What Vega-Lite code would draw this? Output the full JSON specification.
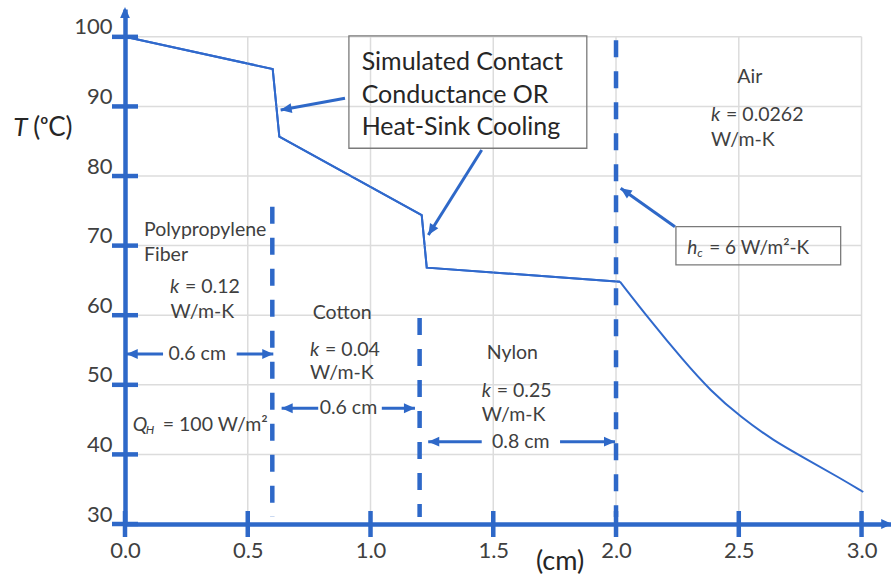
{
  "$schema": "https://vega.github.io/schema/vega-lite/v6.json",
  "width": 766,
  "height": 515,
  "autosize": {"type": "none"},
  "padding": {"left": 125, "top": 9, "right": 0, "bottom": 56},
  "background": "white",
  "config": {"view": {"stroke": null}, "font": "Lato", "text": {"font": "Lato", "color": "#404040"}},
  "datasets": {
    "profile": [
      {"x": 0, "T": 100},
      {"x": 0.6016, "T": 95.38},
      {"x": 0.6286, "T": 85.65},
      {"x": 1.2085, "T": 74.4},
      {"x": 1.229, "T": 66.83},
      {"x": 2.016, "T": 64.82}
    ],
    "decay": [
      {"x": 2.016, "T": 64.82},
      {"x": 2.138, "T": 59.3},
      {"x": 2.274, "T": 53.5},
      {"x": 2.383, "T": 49.2},
      {"x": 2.51, "T": 45.3},
      {"x": 2.641, "T": 42.0},
      {"x": 2.777, "T": 39.3},
      {"x": 2.912, "T": 36.6},
      {"x": 3.007, "T": 34.6}
    ],
    "hgrid": [{"v": 40}, {"v": 50}, {"v": 60}, {"v": 70}, {"v": 80}, {"v": 90}, {"v": 100}],
    "vgrid": [{"v": 0.5}, {"v": 1.0}, {"v": 1.5}, {"v": 2.0}, {"v": 2.5}, {"v": 3.0}],
    "yticks": [{"v": 30}, {"v": 40}, {"v": 50}, {"v": 60}, {"v": 70}, {"v": 80}, {"v": 90}, {"v": 100}],
    "xticks": [{"v": 0}, {"v": 0.5}, {"v": 1.0}, {"v": 1.5}, {"v": 2.0}, {"v": 2.5}, {"v": 3.0}],
    "interfaces": [
      {"x": 0.6, "top": 75.6, "bottom": 31},
      {"x": 1.2, "top": 59.6, "bottom": 31},
      {"x": 2.0, "top": 99.5, "bottom": 31}
    ],
    "labels": [
      {"text": "Polypropylene", "x": 0.0774, "y": 72.25},
      {"text": "Fiber", "x": 0.0774, "y": 68.66},
      {"text": "W/m-K", "x": 0.185, "y": 60.51},
      {"text": "Cotton", "x": 0.7646, "y": 60.36},
      {"text": "W/m-K", "x": 0.7536, "y": 51.66},
      {"text": "Nylon", "x": 1.4733, "y": 54.62},
      {"text": "W/m-K", "x": 1.453, "y": 45.66},
      {"text": "Air", "x": 2.494, "y": 94.28},
      {"text": "W/m-K", "x": 2.387, "y": 85.18}
    ],
    "kvalues": [
      {"val": "= 0.12", "x": 0.1833, "y": 64.01},
      {"val": "= 0.04", "x": 0.7536, "y": 55.0},
      {"val": "= 0.25", "x": 1.453, "y": 49.16},
      {"val": "= 0.0262", "x": 2.387, "y": 88.77}
    ],
    "callout": [
      {"text": "Simulated Contact", "x": 0.964, "y": 96.43},
      {"text": "Conductance OR", "x": 0.964, "y": 91.65},
      {"text": "Heat-Sink Cooling", "x": 0.964, "y": 87.09}
    ],
    "boxes": [
      {"x": 0.912, "x2": 1.881, "y": 100.13, "y2": 83.99},
      {"x": 2.244, "x2": 2.915, "y": 72.72, "y2": 67.22}
    ],
    "dims": [
      {"label": "0.6 cm", "y": 54.43, "xl": 0.007, "xl2": 0.155, "xt": 0.294, "xr": 0.455, "xr2": 0.604},
      {"label": "0.6 cm", "y": 46.63, "xl": 0.638, "xl2": 0.787, "xt": 0.91, "xr": 1.046, "xr2": 1.181},
      {"label": "0.8 cm", "y": 41.83, "xl": 1.235, "xl2": 1.453, "xt": 1.612, "xr": 1.772, "xr2": 1.996}
    ],
    "pointers": [
      {"id": "a1", "x": 0.896, "y": 91.17, "x2": 0.634, "y2": 89.49},
      {"id": "a2", "x": 1.453, "y": 83.74, "x2": 1.2355, "y2": 71.53},
      {"id": "a3", "x": 2.24, "y": 72.72, "x2": 2.019, "y2": 78.24}
    ],
    "qh": [{"x": 0.0314, "y": 44.23}],
    "hc": [{"x": 2.29, "y": 69.62}],
    "ytitle": [{"x": -0.455, "y": 86.83}],
    "xtitle": [{"x": 1.772, "y": 24.54}],
    "yarrow": [{"x": 0, "y": 104.3}],
    "xarrow": [{"x": 3.125, "y": 30}]
  },
  "layer": [
    {
      "data": {"name": "profile"},
      "mark": {"type": "line", "color": "#3069cc", "strokeWidth": 2},
      "encoding": {
        "x": {"field": "x", "type": "quantitative", "title": null,
          "scale": {"domain": [0, 3.12], "nice": false, "zero": false},
          "axis": {"values": [0, 0.5, 1, 1.5, 2, 2.5, 3], "format": ".1f", "title": null, "grid": false, "ticks": false,
            "domain": true, "domainColor": "#2e68c8", "domainWidth": 4.5, "zindex": 1,
            "labelFont": "Lato", "labelFontSize": 22, "labelColor": "#404040", "labelPadding": 16,
            "labelBaseline": "top", "labelFlush": false, "labelOverlap": false}},
        "y": {"field": "T", "type": "quantitative", "title": null,
          "scale": {"domain": [30, 104], "nice": false, "zero": false},
          "axis": {"values": [30, 40, 50, 60, 70, 80, 90, 100], "title": null, "grid": false, "ticks": false,
            "domain": true, "domainColor": "#2e68c8", "domainWidth": 4.5, "zindex": 1,
            "labelFont": "Lato", "labelFontSize": 22, "labelColor": "#404040", "labelPadding": 13,
            "labelBaseline": "alphabetic", "labelOffset": -3, "labelFlush": false, "labelOverlap": false}}
      }
    },
    {
      "data": {"name": "hgrid"},
      "mark": {"type": "rule", "color": "#dcdcdc", "strokeWidth": 1.5},
      "encoding": {
        "y": {"field": "v", "type": "quantitative", "title": null},
        "x": {"datum": 0, "type": "quantitative", "title": null},
        "x2": {"datum": 3}
      }
    },
    {
      "data": {"name": "vgrid"},
      "mark": {"type": "rule", "color": "#dcdcdc", "strokeWidth": 1.5},
      "encoding": {
        "x": {"field": "v", "type": "quantitative", "title": null},
        "y": {"datum": 30, "type": "quantitative", "title": null},
        "y2": {"datum": 100}
      }
    },
    {
      "data": {"name": "interfaces"},
      "mark": {"type": "rule", "color": "#2e68c8", "strokeWidth": 4.5, "strokeDash": [17, 14]},
      "encoding": {
        "x": {"field": "x", "type": "quantitative", "title": null},
        "y": {"field": "top", "type": "quantitative", "title": null},
        "y2": {"field": "bottom"}
      }
    },
    {
      "data": {"name": "profile"},
      "mark": {"type": "line", "color": "#3069cc", "strokeWidth": 2},
      "encoding": {
        "x": {"field": "x", "type": "quantitative", "title": null},
        "y": {"field": "T", "type": "quantitative", "title": null}
      }
    },
    {
      "data": {"name": "decay"},
      "mark": {"type": "line", "color": "#3069cc", "strokeWidth": 2, "interpolate": "basis"},
      "encoding": {
        "x": {"field": "x", "type": "quantitative", "title": null},
        "y": {"field": "T", "type": "quantitative", "title": null}
      }
    },
    {
      "data": {"name": "labels"},
      "mark": {"type": "text", "align": "left", "baseline": "middle", "fontSize": 19.5, "color": "#404040"},
      "encoding": {
        "x": {"field": "x", "type": "quantitative", "title": null},
        "y": {"field": "y", "type": "quantitative", "title": null},
        "text": {"field": "text"}
      }
    },
    {
      "data": {"name": "kvalues"},
      "mark": {"type": "text", "align": "left", "baseline": "middle", "fontSize": 19.5, "fontStyle": "italic", "text": "k", "color": "#404040"},
      "encoding": {
        "x": {"field": "x", "type": "quantitative", "title": null},
        "y": {"field": "y", "type": "quantitative", "title": null}
      }
    },
    {
      "data": {"name": "kvalues"},
      "mark": {"type": "text", "align": "left", "baseline": "middle", "fontSize": 19.5, "dx": 15, "color": "#404040"},
      "encoding": {
        "x": {"field": "x", "type": "quantitative", "title": null},
        "y": {"field": "y", "type": "quantitative", "title": null},
        "text": {"field": "val"}
      }
    },
    {
      "data": {"name": "qh"},
      "mark": {"type": "text", "align": "left", "baseline": "middle", "fontSize": 19.5, "fontStyle": "italic", "text": "Q", "color": "#404040"},
      "encoding": {
        "x": {"field": "x", "type": "quantitative", "title": null},
        "y": {"field": "y", "type": "quantitative", "title": null}
      }
    },
    {
      "data": {"name": "qh"},
      "mark": {"type": "text", "align": "left", "baseline": "middle", "fontSize": 12, "fontStyle": "italic", "text": "H", "dx": 13, "dy": 5, "color": "#404040"},
      "encoding": {
        "x": {"field": "x", "type": "quantitative", "title": null},
        "y": {"field": "y", "type": "quantitative", "title": null}
      }
    },
    {
      "data": {"name": "qh"},
      "mark": {"type": "text", "align": "left", "baseline": "middle", "fontSize": 19.5, "text": "= 100  W/m²", "dx": 30, "color": "#404040"},
      "encoding": {
        "x": {"field": "x", "type": "quantitative", "title": null},
        "y": {"field": "y", "type": "quantitative", "title": null}
      }
    },
    {
      "data": {"name": "hc"},
      "mark": {"type": "text", "align": "left", "baseline": "middle", "fontSize": 19, "fontStyle": "italic", "text": "h", "color": "#404040"},
      "encoding": {
        "x": {"field": "x", "type": "quantitative", "title": null},
        "y": {"field": "y", "type": "quantitative", "title": null}
      }
    },
    {
      "data": {"name": "hc"},
      "mark": {"type": "text", "align": "left", "baseline": "middle", "fontSize": 12, "fontStyle": "italic", "text": "c", "dx": 10, "dy": 5, "color": "#404040"},
      "encoding": {
        "x": {"field": "x", "type": "quantitative", "title": null},
        "y": {"field": "y", "type": "quantitative", "title": null}
      }
    },
    {
      "data": {"name": "hc"},
      "mark": {"type": "text", "align": "left", "baseline": "middle", "fontSize": 19, "text": "= 6 W/m²-K", "dx": 22, "color": "#404040"},
      "encoding": {
        "x": {"field": "x", "type": "quantitative", "title": null},
        "y": {"field": "y", "type": "quantitative", "title": null}
      }
    },
    {
      "data": {"name": "callout"},
      "mark": {"type": "text", "align": "left", "baseline": "middle", "fontSize": 25, "color": "#262626"},
      "encoding": {
        "x": {"field": "x", "type": "quantitative", "title": null},
        "y": {"field": "y", "type": "quantitative", "title": null},
        "text": {"field": "text"}
      }
    },
    {
      "data": {"name": "boxes"},
      "mark": {"type": "rect", "filled": false, "stroke": "#7a7a7a", "strokeWidth": 1.3},
      "encoding": {
        "x": {"field": "x", "type": "quantitative", "title": null},
        "x2": {"field": "x2"},
        "y": {"field": "y", "type": "quantitative", "title": null},
        "y2": {"field": "y2"}
      }
    },
    {
      "data": {"name": "dims"},
      "mark": {"type": "rule", "color": "#2e68c8", "strokeWidth": 3},
      "encoding": {
        "x": {"field": "xl", "type": "quantitative", "title": null},
        "x2": {"field": "xl2"},
        "y": {"field": "y", "type": "quantitative", "title": null}
      }
    },
    {
      "data": {"name": "dims"},
      "mark": {"type": "rule", "color": "#2e68c8", "strokeWidth": 3},
      "encoding": {
        "x": {"field": "xr", "type": "quantitative", "title": null},
        "x2": {"field": "xr2"},
        "y": {"field": "y", "type": "quantitative", "title": null}
      }
    },
    {
      "data": {"name": "dims"},
      "mark": {"type": "point", "shape": "M0,0L0.8,1.8L-0.8,1.8Z", "filled": true, "size": 150, "angle": 270, "color": "#2e68c8", "opacity": 1},
      "encoding": {
        "x": {"field": "xl", "type": "quantitative", "title": null},
        "y": {"field": "y", "type": "quantitative", "title": null}
      }
    },
    {
      "data": {"name": "dims"},
      "mark": {"type": "point", "shape": "M0,0L0.8,1.8L-0.8,1.8Z", "filled": true, "size": 150, "angle": 90, "color": "#2e68c8", "opacity": 1},
      "encoding": {
        "x": {"field": "xr2", "type": "quantitative", "title": null},
        "y": {"field": "y", "type": "quantitative", "title": null}
      }
    },
    {
      "data": {"name": "dims"},
      "mark": {"type": "text", "align": "center", "baseline": "middle", "fontSize": 19.5, "color": "#404040"},
      "encoding": {
        "x": {"field": "xt", "type": "quantitative", "title": null},
        "y": {"field": "y", "type": "quantitative", "title": null},
        "text": {"field": "label"}
      }
    },
    {
      "data": {"name": "pointers"},
      "mark": {"type": "rule", "color": "#2e68c8", "strokeWidth": 3},
      "encoding": {
        "x": {"field": "x", "type": "quantitative", "title": null},
        "x2": {"field": "x2"},
        "y": {"field": "y", "type": "quantitative", "title": null},
        "y2": {"field": "y2"}
      }
    },
    {
      "data": {"name": "pointers"},
      "transform": [{"filter": "datum.id === 'a1'"}],
      "mark": {"type": "point", "shape": "M0,0L0.8,1.8L-0.8,1.8Z", "filled": true, "size": 150, "angle": 260, "color": "#2e68c8", "opacity": 1},
      "encoding": {
        "x": {"field": "x2", "type": "quantitative", "title": null},
        "y": {"field": "y2", "type": "quantitative", "title": null}
      }
    },
    {
      "data": {"name": "pointers"},
      "transform": [{"filter": "datum.id === 'a2'"}],
      "mark": {"type": "point", "shape": "M0,0L0.8,1.8L-0.8,1.8Z", "filled": true, "size": 150, "angle": 212, "color": "#2e68c8", "opacity": 1},
      "encoding": {
        "x": {"field": "x2", "type": "quantitative", "title": null},
        "y": {"field": "y2", "type": "quantitative", "title": null}
      }
    },
    {
      "data": {"name": "pointers"},
      "transform": [{"filter": "datum.id === 'a3'"}],
      "mark": {"type": "point", "shape": "M0,0L0.8,1.8L-0.8,1.8Z", "filled": true, "size": 150, "angle": 305, "color": "#2e68c8", "opacity": 1},
      "encoding": {
        "x": {"field": "x2", "type": "quantitative", "title": null},
        "y": {"field": "y2", "type": "quantitative", "title": null}
      }
    },
    {
      "data": {"name": "yticks"},
      "mark": {"type": "tick", "orient": "horizontal", "size": 26, "thickness": 4.5, "color": "#2e68c8", "opacity": 1},
      "encoding": {
        "y": {"field": "v", "type": "quantitative", "title": null},
        "x": {"datum": 0, "type": "quantitative", "title": null}
      }
    },
    {
      "data": {"name": "xticks"},
      "mark": {"type": "tick", "orient": "vertical", "size": 26, "thickness": 4.5, "color": "#2e68c8", "opacity": 1},
      "encoding": {
        "x": {"field": "v", "type": "quantitative", "title": null},
        "y": {"datum": 30, "type": "quantitative", "title": null}
      }
    },
    {
      "data": {"name": "yarrow"},
      "mark": {"type": "point", "shape": "M0,0L0.8,1.8L-0.8,1.8Z", "filled": true, "size": 150, "angle": 0, "color": "#2e68c8", "opacity": 1},
      "encoding": {
        "x": {"field": "x", "type": "quantitative", "title": null},
        "y": {"field": "y", "type": "quantitative", "title": null}
      }
    },
    {
      "data": {"name": "xarrow"},
      "mark": {"type": "point", "shape": "M0,0L0.8,1.8L-0.8,1.8Z", "filled": true, "size": 150, "angle": 90, "color": "#2e68c8", "opacity": 1},
      "encoding": {
        "x": {"field": "x", "type": "quantitative", "title": null},
        "y": {"field": "y", "type": "quantitative", "title": null}
      }
    },
    {
      "data": {"name": "ytitle"},
      "mark": {"type": "text", "align": "left", "baseline": "middle", "fontSize": 26, "fontStyle": "italic", "text": "T", "color": "#262626"},
      "encoding": {
        "x": {"field": "x", "type": "quantitative", "title": null},
        "y": {"field": "y", "type": "quantitative", "title": null}
      }
    },
    {
      "data": {"name": "ytitle"},
      "mark": {"type": "text", "align": "left", "baseline": "middle", "fontSize": 26, "text": "(ᵒC)", "dx": 20, "color": "#262626"},
      "encoding": {
        "x": {"field": "x", "type": "quantitative", "title": null},
        "y": {"field": "y", "type": "quantitative", "title": null}
      }
    },
    {
      "data": {"name": "xtitle"},
      "mark": {"type": "text", "align": "center", "baseline": "middle", "fontSize": 27, "text": "(cm)", "color": "#262626"},
      "encoding": {
        "x": {"field": "x", "type": "quantitative", "title": null},
        "y": {"field": "y", "type": "quantitative", "title": null}
      }
    }
  ]
}
